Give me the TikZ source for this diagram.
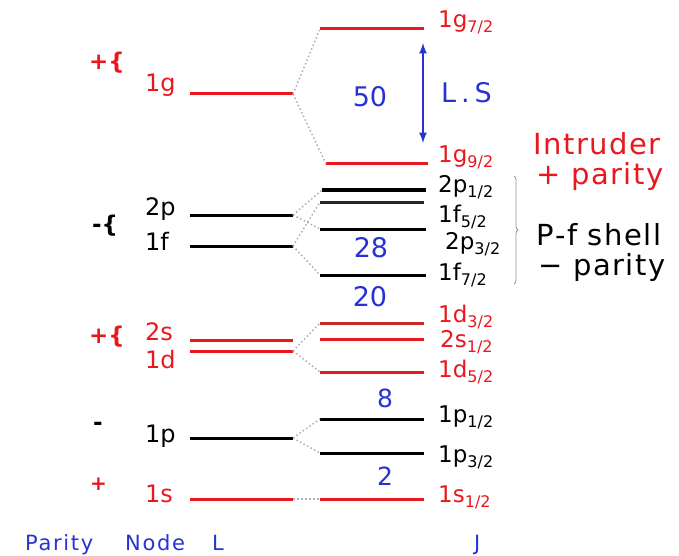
\documentclass[tikz,border=0pt]{standalone}
\usepackage{fontspec}
\setmainfont{DejaVu Sans}
\usetikzlibrary{decorations.pathreplacing}

\definecolor{lvlred}{RGB}{232,24,30}
\definecolor{darkred}{RGB}{200,40,40}
\definecolor{magblue}{RGB}{40,50,210}
\definecolor{dotgray}{RGB}{168,176,188}
\definecolor{bracegray}{RGB}{150,150,150}

\newcommand{\jsub}[1]{\raisebox{-5pt}{\fontsize{16}{16}\selectfont #1}}

\begin{document}
\begin{tikzpicture}[x=1pt, y=-1pt, >=latex,
    level/.style={line width=3pt},
    split/.style={draw=dotgray, line width=1.5pt, dash pattern=on 1.5pt off 2.5pt},
    orbL/.style={anchor=base west, inner sep=0pt, font=\fontsize{24}{24}\selectfont},
    orbR/.style={anchor=base west, inner sep=0pt, font=\fontsize{23}{23}\selectfont},
    sign/.style={anchor=base west, inner sep=0pt, font=\fontsize{23}{23}\selectfont\bfseries},
    magic/.style={text=magblue, inner sep=0pt, font=\fontsize{27}{27}\selectfont},
    note/.style={anchor=base, inner sep=0pt, font=\fontsize{29}{29}\selectfont\addfontfeature{LetterSpace=5}},
    axis/.style={anchor=base west, inner sep=0pt, text=magblue, font=\fontsize{21}{21}\selectfont\addfontfeature{LetterSpace=8}}]

    \useasboundingbox (0,0) rectangle (679,556);

    % --- Niveis sem spin-orbita (esquerda) ---
    \draw[level, lvlred] (190,94) coordinate (g-L) -- (293,94) coordinate (g-R);
    \draw[level] (190,215) coordinate (p2-L) -- (293,215) coordinate (p2-R);
    \draw[level] (190,246) coordinate (f1-L) -- (293,246) coordinate (f1-R);
    \draw[level, lvlred] (190,340) coordinate (s2-L) -- (293,340) coordinate (s2-R);
    \draw[level, lvlred] (190,351) coordinate (d1-L) -- (293,351) coordinate (d1-R);
    \draw[level] (190,438) coordinate (p1-L) -- (293,438) coordinate (p1-R);
    \draw[level, lvlred] (190,499) coordinate (s1-L) -- (293,499) coordinate (s1-R);

    % --- Niveis com spin-orbita (direita) ---
    \draw[level, lvlred] (320,29) coordinate (g7-L) -- (424,29) coordinate (g7-R);
    \draw[level, lvlred] (326,164) coordinate (g9-L) -- (428,164) coordinate (g9-R);
    \draw[level, line width=3.5pt] (322,190) coordinate (p21-L) -- (426,190) coordinate (p21-R);
    \draw[level, black!85] (320,202) coordinate (f5-L) -- (424,202) coordinate (f5-R);
    \draw[level] (320,229) coordinate (p23-L) -- (426,229) coordinate (p23-R);
    \draw[level] (320,275) coordinate (f7-L) -- (426,275) coordinate (f7-R);
    \draw[level, darkred] (320,323) coordinate (d3-L) -- (424,323) coordinate (d3-R);
    \draw[level, lvlred] (320,339) coordinate (s21-L) -- (424,339) coordinate (s21-R);
    \draw[level, lvlred] (320,372) coordinate (d5-L) -- (424,372) coordinate (d5-R);
    \draw[level] (320,419) coordinate (p11-L) -- (424,419) coordinate (p11-R);
    \draw[level] (320,453) coordinate (p13-L) -- (424,453) coordinate (p13-R);
    \draw[level, lvlred] (320,499) coordinate (s11-L) -- (424,499) coordinate (s11-R);

    % --- Ligacoes pontilhadas (desdobramento) ---
    \draw[split] (g-R) -- (g7-L);
    \draw[split] (g-R) -- (g9-L);
    \draw[split] (p2-R) -- (p21-L);
    \draw[split] (p2-R) -- (p23-L);
    \draw[split] (f1-R) -- (f5-L);
    \draw[split] (f1-R) -- (f7-L);
    \draw[split] (d1-R) -- (d3-L);
    \draw[split] (d1-R) -- (d5-L);
    \draw[split] (p1-R) -- (p11-L);
    \draw[split] (p1-R) -- (p13-L);
    \draw[split] (s1-R) -- (s11-L);

    % --- Rotulos da esquerda ---
    \node[orbL, lvlred] (g-lab) at (145,92) {1g};
    \node[orbL] (p2-lab) at (145,215) {2p};
    \node[orbL] (f1-lab) at (145,250) {1f};
    \node[orbL, lvlred] (s2-lab) at (145,340) {2s};
    \node[orbL, lvlred] (d1-lab) at (145,368) {1d};
    \node[orbL] (p1-lab) at (145,442) {1p};
    \node[orbL, lvlred] (s1-lab) at (145,502) {1s};

    % Paridade
    \node[sign, lvlred] (par-g) at (89,70) {+\{};
    \node[sign] (par-pf) at (92,232) {-\{};
    \node[sign, lvlred] (par-sd) at (89,343) {+\{};
    \node[sign] (par-p) at (93,430) {-};
    \node[sign, lvlred, font=\fontsize{20}{20}\selectfont\bfseries] (par-s) at (90,490) {+};

    % --- Rotulos da direita ---
    \node[orbR, lvlred] (g7-lab) at (438,28) {1g\jsub{7/2}};
    \node[orbR, lvlred] (g9-lab) at (438,163) {1g\jsub{9/2}};
    \node[orbR] (p21-lab) at (438,193) {2p\jsub{1/2}};
    \node[orbR] (f5-lab) at (438,222) {1f\jsub{5/2}};
    \node[orbR] (p23-lab) at (445,249) {2p\jsub{3/2}};
    \node[orbR] (f7-lab) at (438,280) {1f\jsub{7/2}};
    \node[orbR, lvlred] (d3-lab) at (438,322) {1d\jsub{3/2}};
    \node[orbR, lvlred] (s21-lab) at (440,347) {2s\jsub{1/2}};
    \node[orbR, lvlred] (d5-lab) at (438,377) {1d\jsub{5/2}};
    \node[orbR] (p11-lab) at (438,422) {1p\jsub{1/2}};
    \node[orbR] (p13-lab) at (438,462) {1p\jsub{3/2}};
    \node[orbR, lvlred] (s11-lab) at (438,502) {1s\jsub{1/2}};

    % --- Numeros magicos ---
    \node[magic] (m50) at (370,97) {50};
    \node[magic] (m28) at (371,248) {28};
    \node[magic] (m20) at (370,297) {20};
    \node[magic, font=\fontsize{25}{25}\selectfont] (m8) at (385,398) {8};
    \node[magic, font=\fontsize{25}{25}\selectfont] (m2) at (385,476) {2};

    % Seta L.S
    \coordinate (LS-top) at (423,43);
    \coordinate (LS-bot) at (423,143);
    \draw[<->, magblue, line width=2.5pt] (LS-top) -- (LS-bot);
    \node[magic, anchor=base west, font=\fontsize{27}{27}\selectfont\addfontfeature{LetterSpace=18}] (LS) at (441,103) {L.S};

    % --- Notas laterais ---
    \node[note, lvlred] (intr) at (597,155) {Intruder};
    \node[note, lvlred] (intr-par) at (600,184) {+ parity};

    \draw[bracegray, line width=0.8pt, decorate, decoration={brace, amplitude=4pt}]
        (514,176) coordinate (br-top) -- (514,284) coordinate (br-bot);
    \node[note] (pf) at (599,245) {P-f shell};
    \node[note] (pf-par) at (602,275) {− parity};

    % --- Eixos ---
    \node[axis] (ax-par) at (25,550) {Parity};
    \node[axis] (ax-node) at (125,550) {Node};
    \node[axis] (ax-L) at (212,550) {L};
    \node[axis] (ax-J) at (474,550) {J};

\end{tikzpicture}
\end{document}
